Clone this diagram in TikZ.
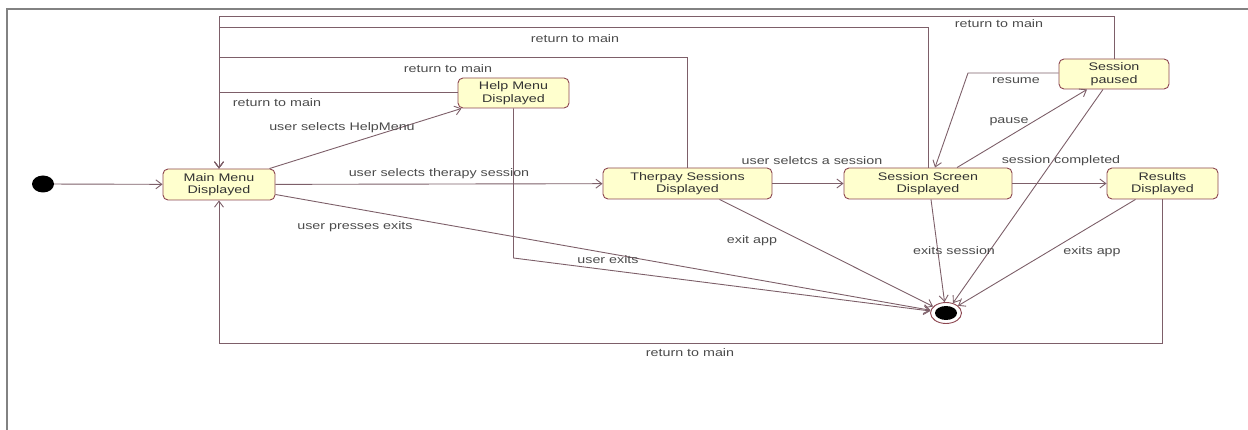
\documentclass[tikz,border=0pt]{standalone}
\usepackage{fontspec}
\setmainfont{Liberation Sans}
\newfontfamily\diagfont[FakeStretch=1.3]{Liberation Sans}
\usetikzlibrary{arrows.meta,shapes.geometric}
\definecolor{statefill}{RGB}{255,255,206}
\definecolor{stateline}{RGB}{140,70,80}
\definecolor{wire}{RGB}{125,95,105}
\definecolor{labeltext}{RGB}{75,75,75}
\definecolor{framegray}{RGB}{130,130,130}

\begin{document}
\begin{tikzpicture}[x=1pt,y=-1pt,
  state/.style={draw=stateline, line width=0.9pt, fill=statefill, rounded corners=5pt,
    inner sep=0pt, font=\diagfont\fontsize{11}{12.5}\selectfont, text=black!80, align=center},
  trans/.style={draw=wire, line width=0.9pt, -{Straight Barb[length=6pt,width=9pt]}},
  lbl/.style={font=\diagfont\fontsize{11}{12}\selectfont, text=labeltext, inner sep=1pt}]
\useasboundingbox (0,0) rectangle (1248,430);

% outer frame
\draw[framegray, line width=1.5pt] (7,430) -- (7,9) -- (1248,9);

% states
\node[ellipse, fill=black, minimum width=22pt, minimum height=17pt, inner sep=0pt] (init) at (43,184) {};
\node[state, minimum width=112pt, minimum height=31pt] (mm) at (219,184.5) {Main Menu\\Displayed};
\node[state, minimum width=111pt, minimum height=30pt] (hm) at (513.5,93) {Help Menu\\Displayed};
\node[state, minimum width=169pt, minimum height=31pt] (ts) at (687.5,183.5) {Therpay Sessions\\Displayed};
\node[state, minimum width=168pt, minimum height=31pt] (ss) at (928,183.5) {Session Screen\\Displayed};
\node[state, minimum width=110pt, minimum height=30pt] (sp) at (1114,74) {Session\\paused};
\node[state, minimum width=111pt, minimum height=31pt] (rd) at (1162.5,183.5) {Results\\Displayed};
\node[ellipse, draw=stateline, line width=0.9pt, fill=white, minimum width=31pt, minimum height=21pt, inner sep=0pt] (fin) at (946,313) {};
\node[ellipse, fill=black, minimum width=22pt, minimum height=14pt, inner sep=0pt] (fincore) at (946,313) {};

% bend points of the return paths
\coordinate (r1) at (219,16);
\coordinate (r2) at (219,27);
\coordinate (r3) at (219,57);
\coordinate (r4) at (219,92);
\coordinate (r5) at (219,343);
\coordinate (h1) at (513.5,258);
\coordinate (s1) at (968,73);

% transitions
\draw[trans] (init) -- (mm);
\draw[trans] ([xshift=-6pt]mm.north east) -- ([xshift=4pt]hm.south west);
\draw[trans] (mm) -- (ts);
\draw[trans] (ts) -- (ss);
\draw[trans] (ss) -- (rd);
\draw[trans] ([xshift=29pt]ss.north) -- ([xshift=-27pt]sp.south);
\draw[trans] (sp.west |- s1) -- (s1) -- ([xshift=7pt]ss.north);

\draw[trans] (sp.north) |- (r1) -- (mm.north);
\draw[trans] (ss.north) |- (r2) -- (mm.north);
\draw[trans] (ts.north) |- (r3) -- (mm.north);
\draw[trans] (hm.west |- r4) -- (r4) -- (mm.north);
\draw[trans] (rd.south) |- (r5) -- (mm.south);

\draw[trans] ([yshift=-10pt]mm.east) -- (fin);
\draw[trans] (hm.south) -- (h1) -- (fin);
\draw[trans] ([xshift=32pt]ts.south) -- (fin);
\draw[trans] ([xshift=3pt]ss.south) -- (fin);
\draw[trans] ([xshift=-11pt]sp.south) -- (fin);
\draw[trans] ([xshift=-27pt]rd.south) -- (fin);

% transition labels
\node[lbl] (l1) at (999,24) {return to main};
\node[lbl] (l2) at (575,39) {return to main};
\node[lbl] (l3) at (448,69) {return to main};
\node[lbl] (l4) at (277,103) {return to main};
\node[lbl] (l5) at (690,353) {return to main};
\node[lbl] (l6) at (342,128) {user selects HelpMenu};
\node[lbl] (l7) at (439,174) {user selects therapy session};
\node[lbl] (l8) at (355,227) {user presses exits};
\node[lbl] (l9) at (608,260) {user exits};
\node[lbl] (l10) at (752,241) {exit app};
\node[lbl] (l11) at (812,161) {user seletcs a session};
\node[lbl] (l12) at (1009,122) {pause};
\node[lbl] (l13) at (1016,81) {resume};
\node[lbl] (l14) at (1061,161) {session completed};
\node[lbl] (l15) at (954,251) {exits session};
\node[lbl] (l16) at (1092,252) {exits app};
\end{tikzpicture}
\end{document}
